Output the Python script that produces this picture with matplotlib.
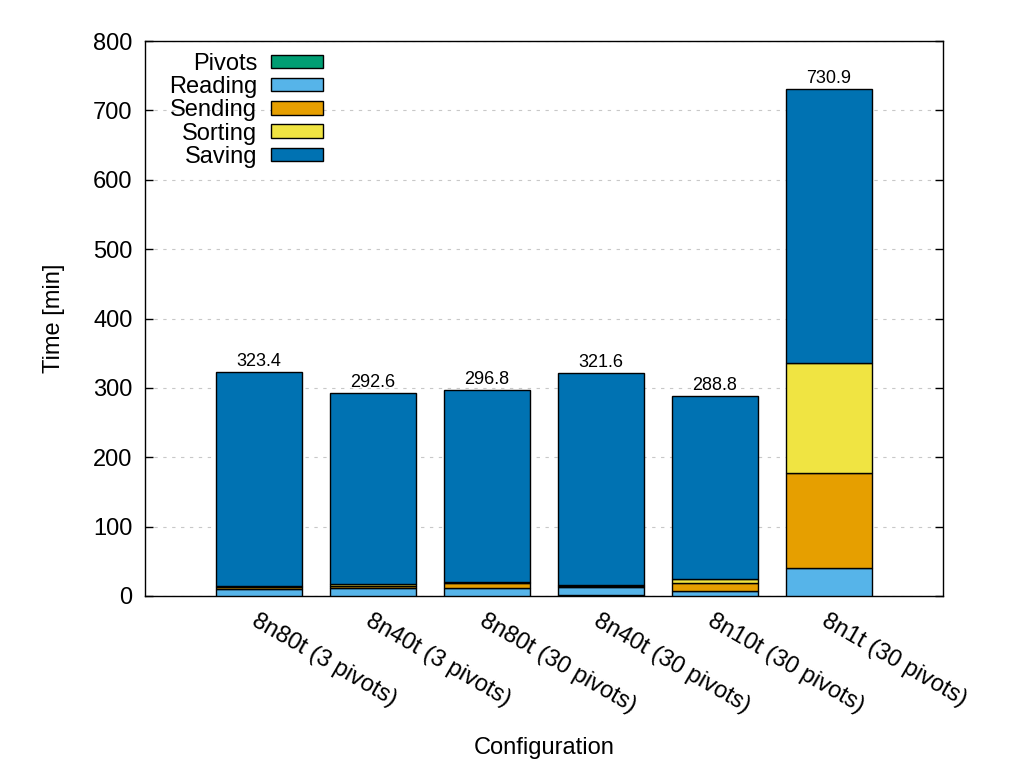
import matplotlib
matplotlib.use("Agg")
import matplotlib.pyplot as plt
import numpy as np

plt.rcParams['font.family'] = ['Liberation Sans', 'DejaVu Sans']

configs = ["8n80t (3 pivots)", "8n40t (3 pivots)", "8n80t (30 pivots)",
           "8n40t (30 pivots)", "8n10t (30 pivots)", "8n1t (30 pivots)"]
totals = [323.4, 292.6, 296.8, 321.6, 288.8, 730.9]

pivots = [0.3, 0.3, 0.3, 1.0, 0.3, 0.3]
reading = [10.5, 11.0, 11.0, 12.0, 7.0, 40.0]
sending = [2.5, 3.0, 8.0, 2.0, 11.0, 137.0]
sorting = [1.5, 2.5, 0.5, 1.5, 6.5, 159.0]
saving = [t - p - r - se - so for t, p, r, se, so in
          zip(totals, pivots, reading, sending, sorting)]

series = [("Pivots", pivots, "#009E73"),
          ("Reading", reading, "#56B4E9"),
          ("Sending", sending, "#E69F00"),
          ("Sorting", sorting, "#F0E442"),
          ("Saving", saving, "#0072B2")]

fig = plt.figure(figsize=(10.11, 7.64), dpi=100)
ax = fig.add_axes([0.1434, 0.2199, 0.7893, 0.7264])

x = np.arange(len(configs))
bottom = np.zeros(len(configs))
for name, vals, color in series:
    ax.bar(x, vals, width=0.75, bottom=bottom, color=color,
           edgecolor="black", linewidth=1.0, label=name, zorder=3)
    bottom += np.array(vals)

for xi, t in zip(x, totals):
    ax.text(xi, t + 3, f"{t:.1f}", ha="center", va="bottom", fontsize=13)

ax.set_xlim(-1, 6)
ax.set_ylim(0, 800)
ax.set_yticks(np.arange(0, 801, 100))
ax.tick_params(axis="y", labelsize=17, direction="in", length=6,
               right=True, left=True, width=1, pad=9)
ax.set_xticks(x)
ax.set_xticklabels(configs, rotation=-30, ha="left", va="top",
                   rotation_mode="anchor", fontsize=17)
ax.tick_params(axis="x", length=0, pad=10)
ax.grid(axis="y", color="#c8c8c8", linestyle=(0, (3, 5)), linewidth=0.8,
        zorder=0)
for s in ax.spines.values():
    s.set_linewidth(1.0)

ax.set_ylabel("Time [min]", fontsize=17, labelpad=20)
ax.set_xlabel("Configuration", fontsize=17, labelpad=14)

leg = ax.legend(loc="upper left", markerfirst=False, frameon=False,
                fontsize=17, handlelength=2.2, handleheight=0.5,
                labelspacing=0.05, borderaxespad=0.0, handletextpad=0.6,
                borderpad=0.2, bbox_to_anchor=(0.024, 0.987))

fig.savefig("out.png", dpi=100)
